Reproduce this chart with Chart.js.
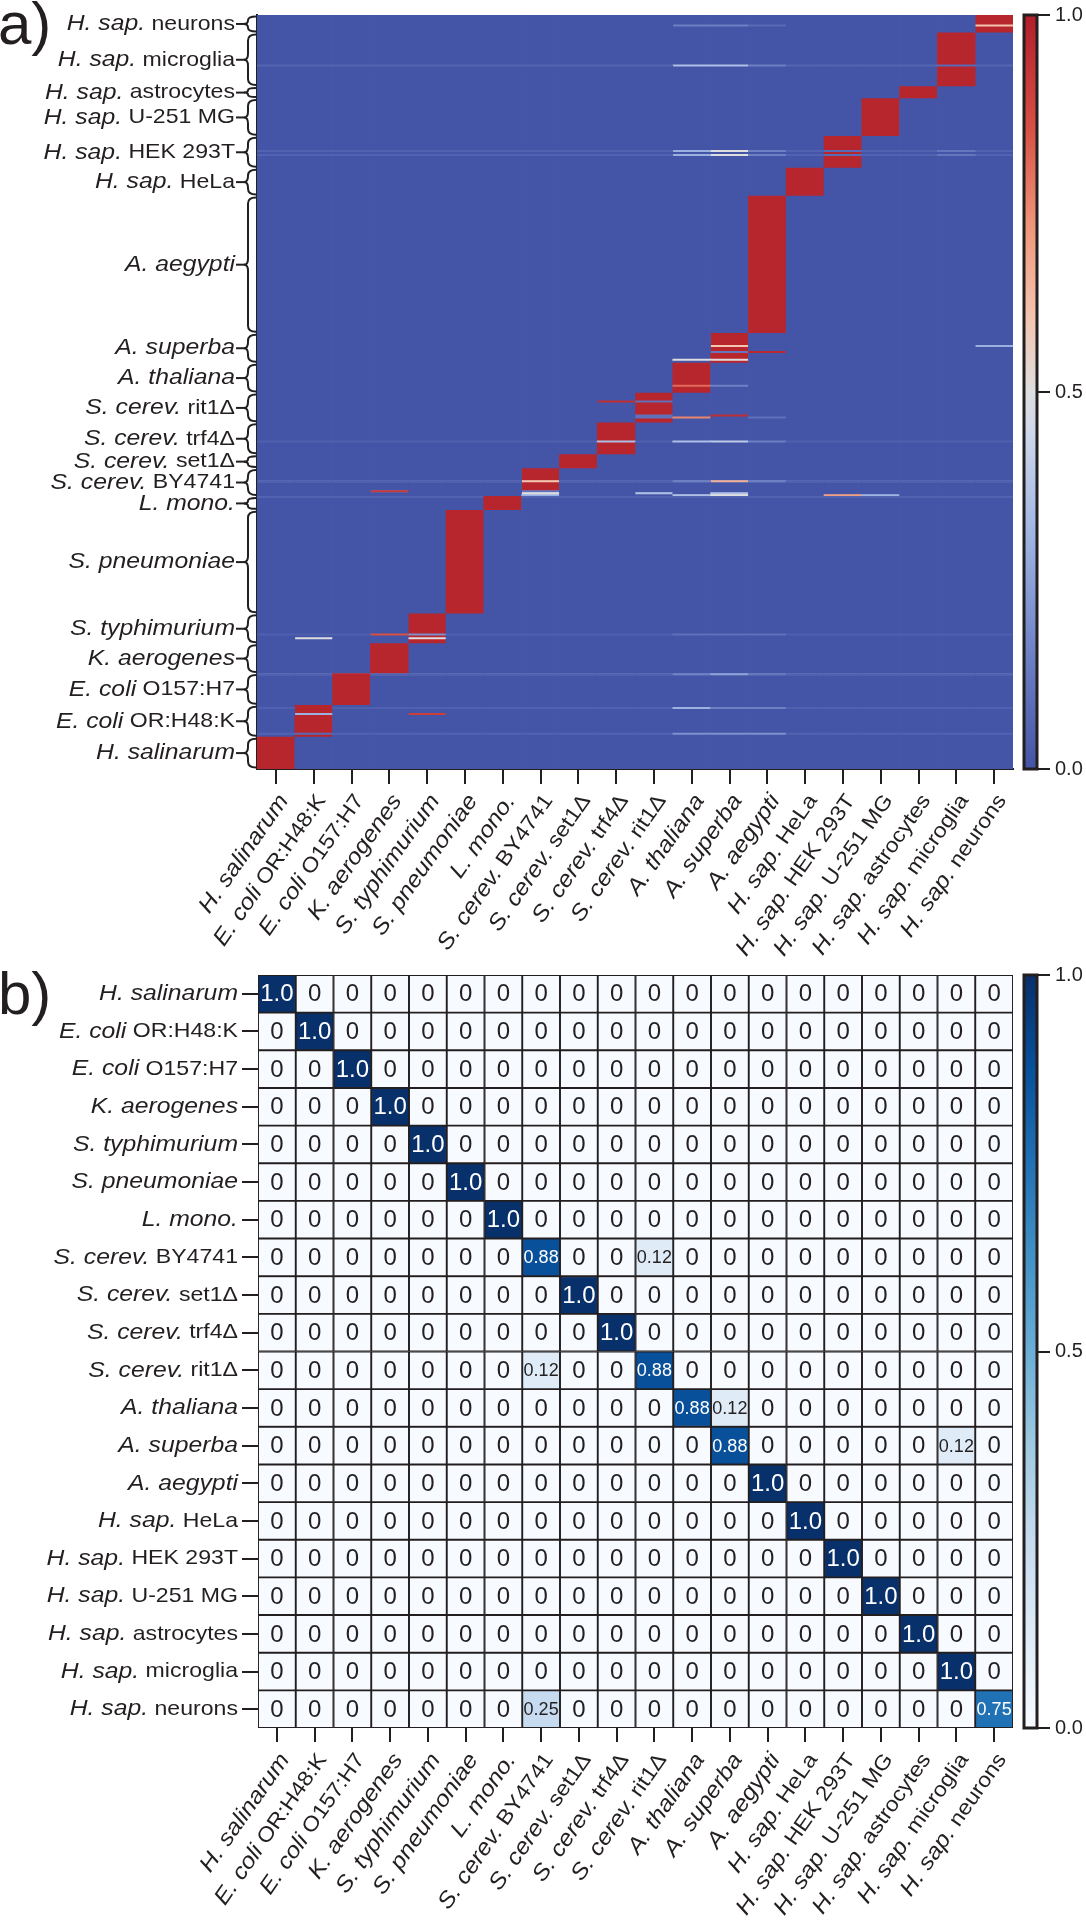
<!DOCTYPE html>
<html>
<head>
<meta charset="utf-8">
<script src="https://cdn.jsdelivr.net/npm/chart.js@4.4.1/dist/chart.umd.min.js"></script>
<style>
  html, body { margin: 0; padding: 0; background: #fff; }
  .panel { position: absolute; left: 0; width: 1086px; height: 960px; }
</style>
</head>
<body>
<div class="panel" style="top:0"><canvas id="heatmapA" width="1086" height="960"></canvas></div>
<div class="panel" style="top:960px"><canvas id="confusionB" width="1086" height="960"></canvas></div>
<script>
// Clases: especie (cursiva) + cepa / linea celular
const species = ['H. salinarum', 'E. coli', 'E. coli', 'K. aerogenes', 'S. typhimurium', 'S. pneumoniae',
  'L. mono.', 'S. cerev.', 'S. cerev.', 'S. cerev.', 'S. cerev.', 'A. thaliana', 'A. superba', 'A. aegypti',
  'H. sap.', 'H. sap.', 'H. sap.', 'H. sap.', 'H. sap.', 'H. sap.'];
const strains = ['', 'OR:H48:K', 'O157:H7', '', '', '', '', 'BY4741', 'set1Δ', 'trf4Δ', 'rit1Δ', '', '', '',
  'HeLa', 'HEK 293T', 'U-251 MG', 'astrocytes', 'microglia', 'neurons'];
const classes = species.map((s, i) => strains[i] ? s + ' ' + strains[i] : s);

// Panel a: muestras por clase (de abajo hacia arriba)
const samplesPerClass = [16, 16, 16, 15, 15, 52, 7, 14, 7, 16, 15, 15, 15, 69, 14, 16, 19, 6, 27, 9];
const matchScore = 0.98;
const otherScore = 0.0;
// filas algo mas claras en casi todas las columnas [muestra, score]
const faintRows = [[17, 0.05], [30, 0.04], [47, 0.05], [67, 0.04], [136, 0.05], [144, 0.04],
  [164, 0.04], [308, 0.05], [310, 0.05], [353, 0.06]];
// scores que se salen del patron [muestra, columna, score]
const oddScores = [
  [373, 19, 0.6], [373, 11, 0.15], [373, 12, 0.15], [373, 13, 0.08],
  [353, 18, 0.08], [353, 11, 0.35], [353, 12, 0.35], [353, 13, 0.15],
  [310, 15, 0.08], [310, 12, 0.5], [310, 11, 0.3], [310, 13, 0.15], [310, 18, 0.12],
  [308, 15, 0.08], [308, 12, 0.5], [308, 11, 0.3], [308, 13, 0.15], [308, 18, 0.12],
  [212, 12, 0.6], [212, 19, 0.3],
  [209, 12, 0.12], [209, 13, 0.97],
  [205, 12, 0.5], [205, 11, 0.5],
  [192, 11, 0.8], [192, 12, 0.15],
  [184, 10, 0.1], [184, 9, 0.95],
  [177, 12, 0.95], [177, 10, 0.1],
  [176, 11, 0.75], [176, 10, 0.1], [176, 13, 0.1],
  [164, 9, 0.35], [164, 11, 0.35], [164, 12, 0.4], [164, 13, 0.15],
  [144, 12, 0.65], [144, 11, 0.15], [144, 13, 0.15], [144, 7, 0.6],
  [139, 3, 0.92], [139, 7, 0.1],
  [138, 10, 0.35], [138, 12, 0.35], [138, 7, 0.5],
  [137, 15, 0.7], [137, 11, 0.35], [137, 12, 0.5], [137, 16, 0.3], [137, 7, 0.3],
  [67, 3, 0.85], [67, 4, 0.2], [67, 11, 0.1], [67, 12, 0.1], [67, 13, 0.1],
  [65, 1, 0.5], [65, 4, 0.5],
  [47, 11, 0.15], [47, 12, 0.25], [47, 13, 0.12],
  [30, 11, 0.3], [30, 12, 0.15], [30, 13, 0.15],
  [27, 4, 0.9], [27, 1, 0.3],
  [17, 1, 0.08], [17, 11, 0.2], [17, 12, 0.2], [17, 13, 0.2]
];

// Panel b: matriz de confusion (fila = clase real, columna = prediccion)
const diagonalShare = [1, 1, 1, 1, 1, 1, 1, 0.88, 1, 1, 0.88, 0.88, 0.88, 1, 1, 1, 1, 1, 1, 0.75];
const offDiagonal = [[7, 10, 0.12], [10, 7, 0.12], [11, 12, 0.12], [12, 18, 0.12], [19, 7, 0.25]];
const colorbarTicks = [0, 0.5, 1];

// estilos
const ink = '#231f20';
const fontFamily = '"Liberation Sans", Arial, Helvetica, sans-serif';
const italicSize = 22.5;
const romanSize = 21;
const labelStretch = 1.1;
const labelAngle = 55 * Math.PI / 180;
const coolwarmStops = [
  [0.0, [68, 84, 166]], [0.15, [108, 128, 196]], [0.3, [155, 178, 225]], [0.45, [208, 216, 235]],
  [0.5, [222, 222, 224]], [0.6, [244, 196, 175]], [0.72, [240, 150, 120]], [0.85, [215, 80, 68]],
  [1.0, [178, 30, 42]]
];
const bluesStops = [
  [0.0, [247, 251, 255]], [0.125, [222, 235, 247]], [0.25, [198, 219, 239]], [0.375, [158, 202, 225]],
  [0.5, [107, 174, 214]], [0.625, [66, 146, 198]], [0.75, [33, 113, 181]], [0.875, [8, 81, 156]],
  [1.0, [8, 48, 107]]
];

function colorAt(stops, v) {
  v = Math.max(0, Math.min(1, v));
  for (let i = 1; i < stops.length; i++) {
    if (v <= stops[i][0]) {
      const [a, ca] = stops[i - 1], [b, cb] = stops[i];
      const t = (v - a) / (b - a);
      const c = ca.map((x, k) => Math.round(x + (cb[k] - x) * t));
      return `rgb(${c[0]}, ${c[1]}, ${c[2]})`;
    }
  }
  return `rgb(${stops[stops.length - 1][1].join(',')})`;
}

// etiqueta con parte en cursiva y parte normal
function drawClassLabel(ctx, i, x, y, angle) {
  const it = `italic ${italicSize}px ${fontFamily}`, up = `${romanSize}px ${fontFamily}`;
  ctx.save();
  ctx.translate(x, y);
  ctx.rotate(-angle);
  ctx.scale(labelStretch, 1);
  ctx.textBaseline = 'middle';
  ctx.textAlign = 'left';
  ctx.fillStyle = ink;
  ctx.font = it;
  const wi = ctx.measureText(species[i]).width;
  ctx.font = up;
  const rest = strains[i] ? ' ' + strains[i] : '';
  const wr = rest ? ctx.measureText(rest).width : 0;
  const x0 = -(wi + wr);
  ctx.font = it;
  ctx.fillText(species[i], x0, 0);
  if (rest) {
    ctx.font = up;
    ctx.fillText(rest, x0 + wi, 0);
  }
  ctx.restore();
}

function drawXLabels(chart) {
  const xs = chart.scales.x, ctx = chart.ctx;
  classes.forEach((_, i) => {
    drawClassLabel(ctx, i, xs.getPixelForValue(i) + 8, chart.chartArea.bottom + 28, labelAngle);
  });
}

function drawPanelTag(ctx, text, baseline) {
  ctx.save();
  ctx.font = `60px ${fontFamily}`;
  ctx.fillStyle = ink;
  ctx.textBaseline = 'alphabetic';
  ctx.fillText(text, -2, baseline);
  ctx.restore();
}

// barra de color dibujada en el hueco entre el area y el eje cb
function colorbarPlugin(stops) {
  return {
    id: 'colorbar',
    afterDraw(chart) {
      const { ctx, chartArea } = chart;
      const x1 = chart.scales.gap.right, x0 = x1 - 13;
      const g = ctx.createLinearGradient(0, chartArea.bottom, 0, chartArea.top);
      stops.forEach(([v, c]) => g.addColorStop(v, `rgb(${c.join(',')})`));
      ctx.save();
      ctx.fillStyle = g;
      ctx.fillRect(x0, chartArea.top, x1 - x0, chartArea.bottom - chartArea.top);
      ctx.strokeStyle = ink;
      ctx.lineWidth = 3;
      ctx.strokeRect(x0, chartArea.top, x1 - x0, chartArea.bottom - chartArea.top);
      ctx.restore();
    }
  };
}

function sideScales() {
  return {
    gap: {
      type: 'linear', position: 'right', min: 0, max: 1, weight: 0,
      grid: { display: false }, border: { display: false }, ticks: { display: false },
      afterFit: s => { s.width = 24; }
    },
    cb: {
      type: 'linear', position: 'right', min: 0, max: 1, weight: 1,
      afterBuildTicks: s => { s.ticks = colorbarTicks.map(v => ({ value: v })); },
      grid: { display: true, drawOnChartArea: false, tickLength: 13, color: ink, lineWidth: 2 },
      border: { display: false },
      ticks: { color: ink, padding: 5, font: { family: fontFamily, size: 20, lineHeight: 1 },
        callback: v => v.toFixed(1) },
      afterFit: s => { s.width = 49; }
    }
  };
}

// ---------- Panel a ----------
const totalSamples = samplesPerClass.reduce((a, b) => a + b, 0);
const classStart = [];
let acc = 0;
samplesPerClass.forEach(n => { classStart.push(acc); acc += n; });

const scores = [];
for (let s = 0, cls = 0; s < totalSamples; s++) {
  while (cls < classes.length - 1 && s >= classStart[cls + 1]) cls++;
  scores.push(classes.map((_, c) => c === cls ? matchScore : otherScore));
}
faintRows.forEach(([s, v]) => { scores[s] = scores[s].map(x => x === otherScore ? v : x); });
oddScores.forEach(([s, c, v]) => { scores[s][c] = v; });

// tramos de igual score por columna -> barras flotantes
const runSets = [];
classes.forEach((_, c) => {
  let k = 0, s0 = 0;
  for (let s = 1; s <= totalSamples; s++) {
    if (s === totalSamples || scores[s][c] !== scores[s0][c]) {
      if (!runSets[k]) {
        runSets[k] = {
          data: classes.map(() => null),
          backgroundColor: classes.map(() => 'rgba(0,0,0,0)'),
          borderWidth: 0, grouped: false, barPercentage: 1, categoryPercentage: 1
        };
      }
      runSets[k].data[c] = [s0, s];
      runSets[k].backgroundColor[c] = colorAt(coolwarmStops, scores[s0][c]);
      k++;
      s0 = s;
    }
  }
});

const labelsA = {
  id: 'labelsA',
  afterDraw(chart) {
    const { ctx } = chart;
    const ys = chart.scales.y;
    ctx.save();
    ctx.strokeStyle = ink;
    ctx.lineWidth = 2;
    classes.forEach((_, i) => {
      const yTop = ys.getPixelForValue(classStart[i] + samplesPerClass[i]) + 1.5;
      const yBot = ys.getPixelForValue(classStart[i]) - 1.5;
      const ym = (yTop + yBot) / 2;
      const x = 248, r = Math.min(6, (yBot - yTop) / 4);
      ctx.beginPath();
      ctx.moveTo(x + 8, yTop);
      ctx.quadraticCurveTo(x, yTop, x, yTop + r);
      ctx.lineTo(x, ym - r);
      ctx.quadraticCurveTo(x, ym, x - 4, ym);
      ctx.quadraticCurveTo(x, ym, x, ym + r);
      ctx.lineTo(x, yBot - r);
      ctx.quadraticCurveTo(x, yBot, x + 8, yBot);
      ctx.stroke();
      ctx.beginPath();
      ctx.moveTo(236, ym);
      ctx.lineTo(245, ym);
      ctx.stroke();
      drawClassLabel(ctx, i, 235, ym, 0);
    });
    ctx.restore();
    drawXLabels(chart);
    drawPanelTag(ctx, 'a)', 44);
  }
};

new Chart(document.getElementById('heatmapA'), {
  type: 'bar',
  data: { labels: classes, datasets: runSets },
  options: {
    responsive: false,
    animation: false,
    events: [],
    layout: { padding: { top: 11 } },
    plugins: { legend: { display: false }, tooltip: { enabled: false } },
    scales: {
      x: {
        type: 'category', offset: true,
        grid: { display: true, offset: false, drawOnChartArea: false, tickLength: 15, color: ink, lineWidth: 2 },
        border: { display: true, color: ink, width: 2 },
        ticks: { display: false, autoSkip: false },
        afterFit: s => { s.height = 191; }
      },
      y: {
        type: 'linear', min: 0, max: totalSamples,
        grid: { display: false },
        border: { display: true, color: ink, width: 2 },
        ticks: { display: false },
        afterFit: s => { s.width = 257; }
      },
      ...sideScales()
    }
  },
  plugins: [labelsA, colorbarPlugin(coolwarmStops)]
});

// ---------- Panel b ----------
const shares = classes.map((_, r) => classes.map((_, c) => r === c ? diagonalShare[r] : 0));
offDiagonal.forEach(([r, c, v]) => { shares[r][c] = v; });

const labelsB = {
  id: 'labelsB',
  afterDatasetsDraw(chart) {
    const { ctx } = chart;
    ctx.save();
    ctx.textAlign = 'center';
    ctx.textBaseline = 'middle';
    shares.forEach((row, r) => {
      chart.getDatasetMeta(r).data.forEach((bar, c) => {
        const v = row[c];
        const txt = v === 0 ? '0' : v === 1 ? '1.0' : v.toFixed(2);
        ctx.font = (txt.length > 3 ? '18px ' : '24px ') + fontFamily;
        ctx.fillStyle = v > 0.5 ? '#fff' : ink;
        ctx.fillText(txt, bar.x, (bar.y + bar.base) / 2 + 1);
      });
    });
    ctx.restore();
  },
  afterDraw(chart) {
    const ys = chart.scales.y;
    classes.forEach((_, r) => drawClassLabel(chart.ctx, r, 238, ys.getPixelForValue(r + 0.5), 0));
    drawXLabels(chart);
    drawPanelTag(chart.ctx, 'b)', 54);
  }
};

new Chart(document.getElementById('confusionB'), {
  type: 'bar',
  data: {
    labels: classes,
    datasets: shares.map((row, r) => ({
      data: row.map(() => [r, r + 1]),
      backgroundColor: row.map(v => colorAt(bluesStops, v)),
      borderColor: ink, borderWidth: 1.3, borderSkipped: false,
      grouped: false, barPercentage: 1, categoryPercentage: 1
    }))
  },
  options: {
    responsive: false,
    animation: false,
    events: [],
    layout: { padding: { top: 12 } },
    plugins: { legend: { display: false }, tooltip: { enabled: false } },
    scales: {
      x: {
        type: 'category', offset: true,
        grid: { display: true, offset: false, drawOnChartArea: false, tickLength: 14, color: ink, lineWidth: 2 },
        border: { display: false },
        ticks: { display: false, autoSkip: false },
        afterFit: s => { s.height = 192; }
      },
      y: {
        type: 'linear', min: 0, max: classes.length, reverse: true,
        afterBuildTicks: s => { s.ticks = classes.map((_, r) => ({ value: r + 0.5 })); },
        grid: { display: true, drawOnChartArea: false, tickLength: 16, color: ink, lineWidth: 2 },
        border: { display: false },
        ticks: { display: false, autoSkip: false },
        afterFit: s => { s.width = 258; }
      },
      ...sideScales()
    }
  },
  plugins: [labelsB, colorbarPlugin(bluesStops)]
});
</script>
</body>
</html>
